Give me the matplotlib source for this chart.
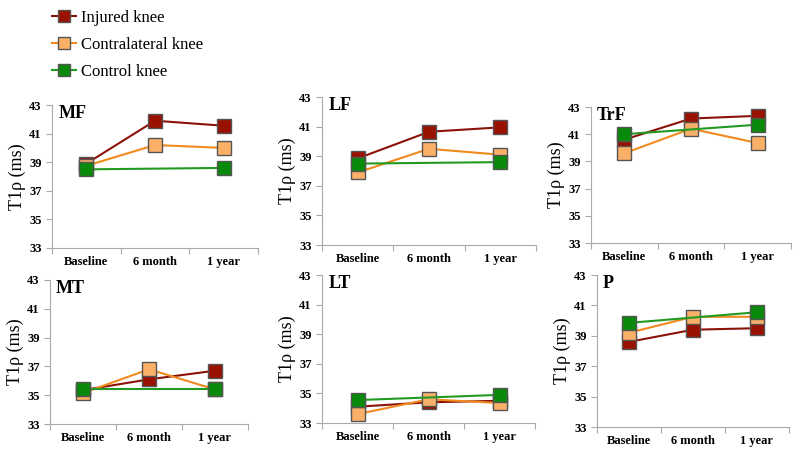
import numpy as np
import matplotlib
matplotlib.use("Agg")
import matplotlib.pyplot as plt
from matplotlib.lines import Line2D

plt.rcParams['font.family'] = ['Liberation Serif', 'DejaVu Serif']

timepoints = ["Baseline", "6 month", "1 year"]
regions = ["MF", "LF", "TrF", "MT", "LT", "P"]

# T1rho values (ms); control knee only at baseline and 1 year
injured = {
    "MF": [38.9, 41.9, 41.55],
    "LF": [38.85, 40.65, 40.95],
    "TrF": [40.6, 42.15, 42.35],
    "MT": [35.35, 36.1, 36.7],
    "LT": [34.1, 34.4, 34.5],
    "P": [38.6, 39.4, 39.5],
}
contralateral = {
    "MF": [38.75, 40.2, 40.0],
    "LF": [37.9, 39.5, 39.1],
    "TrF": [39.6, 41.4, 40.35],
    "MT": [35.15, 36.8, 35.4],
    "LT": [33.6, 34.6, 34.35],
    "P": [39.2, 40.25, 40.25],
}
control = {
    "MF": [38.5, np.nan, 38.6],
    "LF": [38.5, np.nan, 38.6],
    "TrF": [41.0, np.nan, 41.7],
    "MT": [35.4, np.nan, 35.4],
    "LT": [34.55, np.nan, 34.9],
    "P": [39.85, np.nan, 40.55],
}

# axes boxes in pixels: left, right, top, bottom
boxes = {
    "MF": (52, 258, 105, 248),
    "LF": (322, 536, 97, 245),
    "TrF": (591, 791, 107, 243),
    "MT": (50, 248, 280, 424),
    "LT": (322, 535, 275, 423),
    "P": (597, 789, 275, 427),
}

W, H = 800, 454
red_line, red_face = "#8B1208", "#991100"
org_line, org_face = "#F08A1E", "#FBB068"
grn_line, grn_face = "#229A22", "#0A8A0A"
edge = "#555555"

fig = plt.figure(figsize=(W / 100, H / 100), dpi=100)


def draw(ax, vals, lc, fc):
    v = np.array(vals, dtype=float)
    x = np.arange(len(v))
    ok = ~np.isnan(v)
    ax.plot(x[ok], v[ok], color=lc, lw=1.5, marker="s", ms=9.5,
            mfc=fc, mec=edge, mew=1.0, zorder=3)


for r in regions:
    l, rr, t, b = boxes[r]
    ax = fig.add_axes([l / W, 1 - b / H, (rr - l) / W, (b - t) / H])
    draw(ax, injured[r], red_line, red_face)
    draw(ax, contralateral[r], org_line, org_face)
    draw(ax, control[r], grn_line, grn_face)
    ax.set_xlim(-0.5, 2.5)
    ax.set_ylim(33, 43)
    ax.set_yticks([33, 35, 37, 39, 41, 43])
    ax.set_xticks([-0.5, 0.5, 1.5, 2.5])
    ax.set_xticklabels([])
    ax.set_xticks([0, 1, 2], minor=True)
    ax.set_xticklabels(timepoints, minor=True, fontsize=9, fontweight="bold")
    ax.tick_params(axis="x", which="minor", length=0, pad=6)
    ax.tick_params(axis="x", which="major", length=4, color="#aaaaaa")
    ax.tick_params(axis="y", length=4, color="#aaaaaa", labelsize=9)
    for lab in ax.get_yticklabels():
        lab.set_fontweight("bold")
    for s in ["top", "right"]:
        ax.spines[s].set_visible(False)
    for s in ["left", "bottom"]:
        ax.spines[s].set_color("#aaaaaa")
    ax.set_ylabel("T1\u03c1 (ms)", fontsize=13, labelpad=2)
    ax.text(0.03, 1.0, r, transform=ax.transAxes, fontsize=13,
            fontweight="bold", va="top", ha="left")

handles = [
    Line2D([], [], color=red_line, marker="s", ms=8, mfc=red_face, mec=edge, lw=1.5),
    Line2D([], [], color=org_line, marker="s", ms=8, mfc=org_face, mec=edge, lw=1.5),
    Line2D([], [], color=grn_line, marker="s", ms=8, mfc=grn_face, mec=edge, lw=1.5),
]
fig.legend(handles, ["Injured knee", "Contralateral knee", "Control knee"],
           loc="upper left", bbox_to_anchor=(44 / W, 1 - 2 / H), frameon=False,
           fontsize=12, handlelength=1.4, labelspacing=0.65, handletextpad=0.34,
           borderpad=0)

fig.savefig("out.png", dpi=100)
